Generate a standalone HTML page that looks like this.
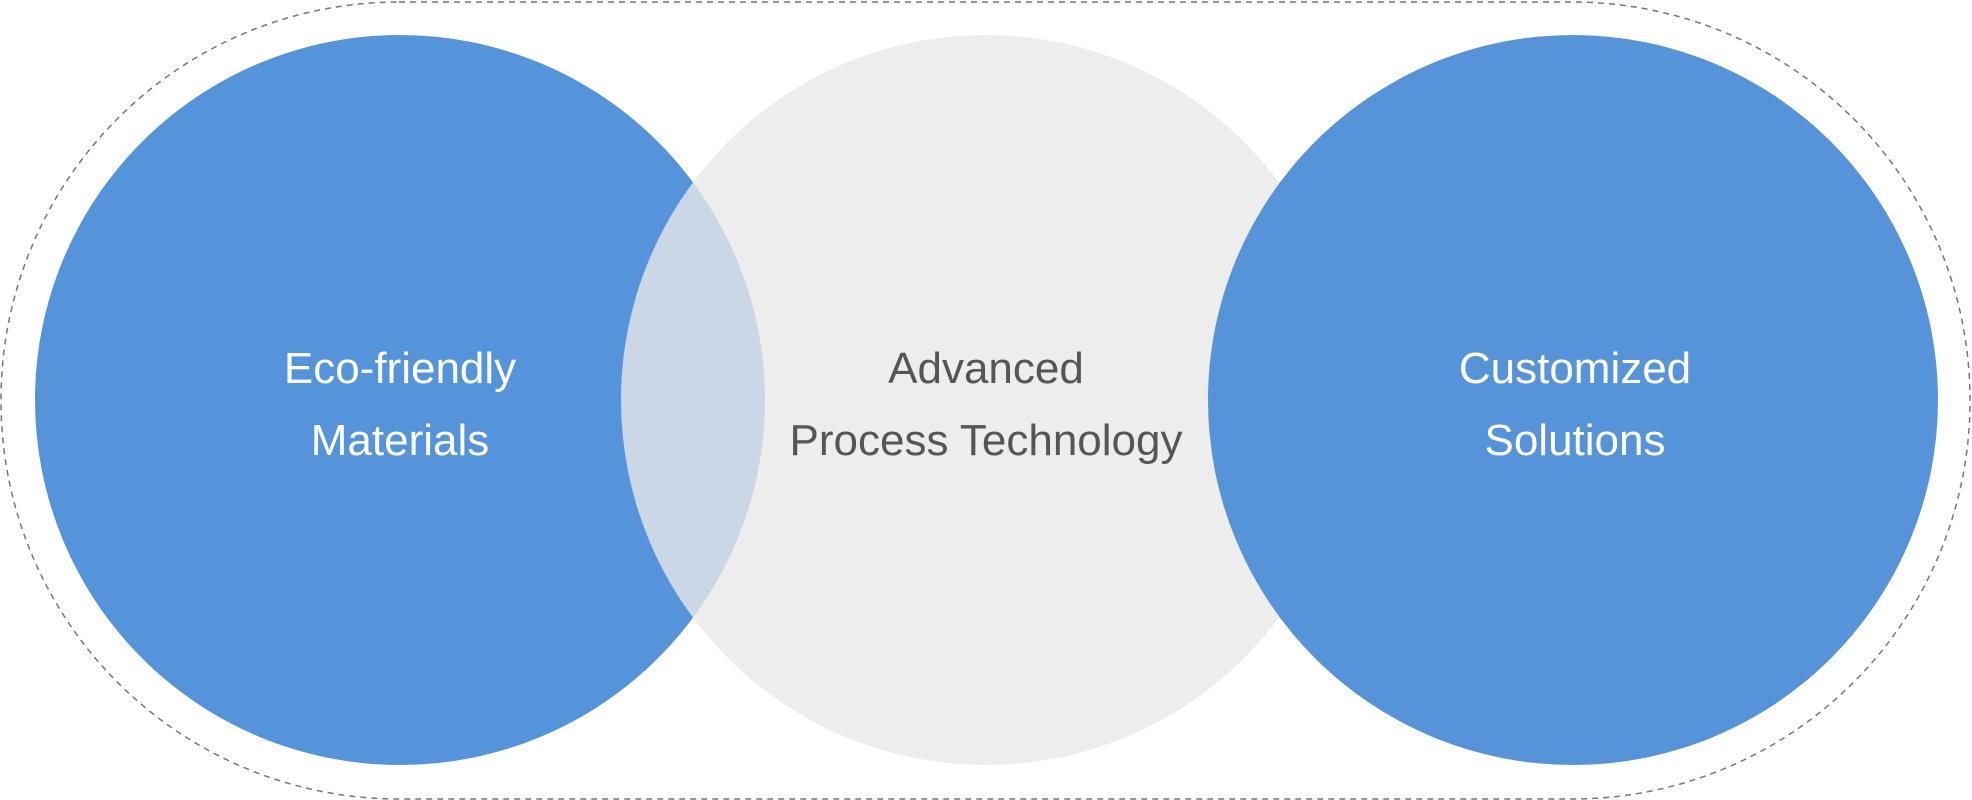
<!DOCTYPE html>
<html><head><style>html,body{margin:0;padding:0;background:#fff;}svg{display:block}</style></head>
<body>
<svg width="1972" height="800" viewBox="0 0 1972 800" xmlns="http://www.w3.org/2000/svg">
<rect x="1" y="2" width="1969" height="797" rx="398" ry="398" fill="none" stroke="#777" stroke-width="1.5" stroke-dasharray="6,5"/>
<circle cx="400" cy="400" r="365" fill="#5593db"/>
<circle cx="986" cy="400" r="365" fill="#e8e8e8" fill-opacity="0.8"/>
<circle cx="1573" cy="400" r="365" fill="#5190d8" fill-opacity="0.97"/>
<g font-family="Liberation Sans, sans-serif" font-size="44" text-anchor="middle">
<text x="400" y="383" fill="#fff">Eco-friendly</text>
<text x="400" y="455" fill="#fff">Materials</text>
<text x="986" y="383" fill="#555">Advanced</text>
<text x="986" y="455" fill="#555">Process Technology</text>
<text x="1575" y="383" fill="#fff">Customized</text>
<text x="1575" y="455" fill="#fff">Solutions</text>
</g>
</svg>
</body></html>
